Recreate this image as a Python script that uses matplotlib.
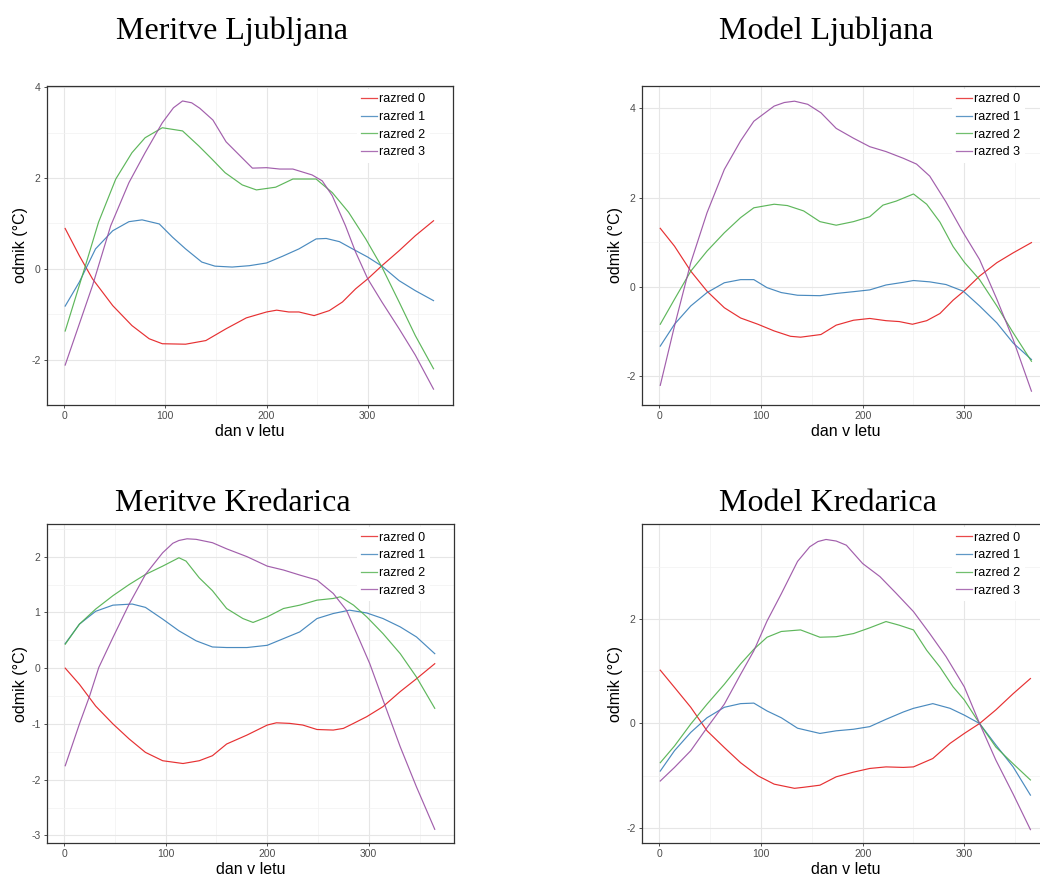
import matplotlib
matplotlib.use("Agg")
import matplotlib.pyplot as plt
from matplotlib.ticker import MultipleLocator
from matplotlib.lines import Line2D

plt.rcParams['font.family'] = ['Liberation Sans', 'DejaVu Sans']
plt.rcParams['axes.unicode_minus'] = False

labels = ["razred 0", "razred 1", "razred 2", "razred 3"]
colors = ["#E41A1C", "#377EB8", "#4DAF4A", "#984EA3"]
titles = ["Meritve Ljubljana", "Model Ljubljana", "Meritve Kredarica", "Model Kredarica"]
x_label = "dan v letu"
y_label = "odmik (°C)"

# ---- Meritve Ljubljana ----
mlj_x0 = [1, 15, 28, 48, 67, 84, 97, 120, 140, 160, 180, 200, 210, 222, 232, 247, 262, 275, 288, 300, 314, 331, 347, 365]
mlj_y0 = [0.89, 0.29, -0.22, -0.81, -1.25, -1.54, -1.65, -1.66, -1.58, -1.32, -1.08, -0.95, -0.91, -0.95, -0.95, -1.03, -0.92, -0.73, -0.44, -0.22, 0.07, 0.40, 0.73, 1.06]
mlj_x1 = [1, 15, 31, 48, 64, 77, 94, 107, 120, 136, 149, 166, 183, 200, 216, 232, 249, 259, 272, 285, 300, 314, 331, 347, 365]
mlj_y1 = [-0.82, -0.29, 0.44, 0.84, 1.04, 1.08, 0.99, 0.70, 0.44, 0.15, 0.06, 0.04, 0.07, 0.13, 0.28, 0.44, 0.66, 0.67, 0.60, 0.44, 0.26, 0.06, -0.26, -0.48, -0.70]
mlj_x2 = [1, 21, 34, 51, 67, 80, 97, 117, 133, 146, 159, 176, 190, 209, 226, 249, 265, 281, 298, 314, 331, 347, 365]
mlj_y2 = [-1.37, 0.07, 1.03, 1.98, 2.56, 2.89, 3.11, 3.04, 2.71, 2.42, 2.12, 1.85, 1.74, 1.80, 1.98, 1.98, 1.68, 1.25, 0.66, 0.04, -0.73, -1.47, -2.20]
mlj_x3 = [1, 28, 46, 64, 80, 97, 108, 117, 126, 134, 147, 160, 173, 186, 200, 213, 226, 245, 255, 265, 278, 288, 300, 314, 331, 347, 365]
mlj_y3 = [-2.12, -0.37, 0.95, 1.90, 2.56, 3.22, 3.55, 3.70, 3.66, 3.54, 3.28, 2.80, 2.51, 2.22, 2.23, 2.20, 2.20, 2.07, 1.94, 1.61, 0.95, 0.37, -0.22, -0.73, -1.32, -1.90, -2.65]

# ---- Model Ljubljana ----
mol_x0 = [1, 15, 31, 47, 64, 80, 97, 113, 129, 139, 159, 174, 191, 207, 223, 236, 249, 263, 276, 289, 300, 315, 332, 348, 366]
mol_y0 = [1.31, 0.91, 0.35, -0.10, -0.47, -0.70, -0.84, -0.99, -1.11, -1.13, -1.07, -0.86, -0.75, -0.71, -0.76, -0.78, -0.84, -0.76, -0.60, -0.30, -0.09, 0.24, 0.54, 0.76, 0.99]
mol_x1 = [1, 15, 31, 47, 64, 80, 93, 106, 120, 136, 158, 174, 191, 207, 223, 240, 250, 266, 282, 299, 315, 332, 348, 366]
mol_y1 = [-1.33, -0.84, -0.43, -0.13, 0.09, 0.16, 0.16, -0.02, -0.13, -0.19, -0.20, -0.15, -0.11, -0.07, 0.04, 0.10, 0.14, 0.11, 0.05, -0.10, -0.43, -0.81, -1.26, -1.63]
mol_x2 = [1, 15, 31, 47, 64, 80, 93, 113, 126, 142, 158, 174, 191, 207, 220, 233, 250, 263, 276, 289, 300, 315, 332, 348, 366]
mol_y2 = [-0.84, -0.28, 0.35, 0.80, 1.21, 1.55, 1.77, 1.85, 1.82, 1.70, 1.46, 1.38, 1.46, 1.57, 1.83, 1.92, 2.08, 1.85, 1.45, 0.90, 0.55, 0.16, -0.43, -1.03, -1.67]
mol_x3 = [1, 15, 31, 47, 64, 80, 93, 113, 123, 133, 146, 159, 174, 191, 207, 223, 240, 253, 266, 282, 299, 315, 332, 348, 366]
mol_y3 = [-2.21, -0.88, 0.54, 1.66, 2.63, 3.27, 3.71, 4.05, 4.13, 4.16, 4.09, 3.90, 3.55, 3.33, 3.14, 3.03, 2.88, 2.75, 2.48, 1.90, 1.21, 0.61, -0.28, -1.18, -2.34]

# ---- Meritve Kredarica ----
mkr_x0 = [1, 15, 31, 48, 64, 80, 97, 117, 133, 146, 160, 180, 200, 209, 222, 235, 249, 265, 275, 285, 298, 314, 331, 347, 365]
mkr_y0 = [0.00, -0.29, -0.68, -1.00, -1.27, -1.51, -1.66, -1.71, -1.66, -1.57, -1.36, -1.20, -1.02, -0.98, -0.99, -1.02, -1.10, -1.11, -1.08, -0.99, -0.87, -0.69, -0.42, -0.19, 0.08]
mkr_x1 = [1, 15, 31, 48, 67, 80, 97, 113, 130, 146, 160, 180, 200, 216, 232, 249, 265, 281, 298, 314, 331, 347, 365]
mkr_y1 = [0.44, 0.79, 1.02, 1.13, 1.15, 1.09, 0.88, 0.67, 0.49, 0.38, 0.37, 0.37, 0.41, 0.53, 0.65, 0.89, 0.98, 1.04, 0.99, 0.89, 0.74, 0.56, 0.26]
mkr_x2 = [1, 15, 31, 48, 64, 80, 97, 113, 120, 133, 146, 160, 176, 186, 200, 216, 232, 249, 265, 272, 285, 298, 314, 331, 347, 365]
mkr_y2 = [0.43, 0.79, 1.06, 1.30, 1.50, 1.68, 1.83, 1.98, 1.92, 1.62, 1.39, 1.07, 0.89, 0.82, 0.92, 1.07, 1.13, 1.22, 1.25, 1.28, 1.13, 0.92, 0.62, 0.26, -0.16, -0.72]
mkr_x3 = [1, 15, 25, 34, 48, 64, 80, 97, 107, 113, 121, 130, 146, 160, 180, 200, 216, 232, 249, 265, 278, 291, 301, 314, 331, 347, 365]
mkr_y3 = [-1.75, -1.00, -0.50, 0.01, 0.55, 1.15, 1.68, 2.07, 2.24, 2.29, 2.32, 2.31, 2.25, 2.14, 2.00, 1.83, 1.76, 1.67, 1.58, 1.34, 1.04, 0.50, 0.08, -0.57, -1.41, -2.13, -2.89]

# ---- Model Kredarica ----
mok_x0 = [1, 15, 31, 47, 64, 80, 97, 113, 133, 142, 158, 174, 191, 207, 223, 240, 250, 269, 286, 300, 315, 331, 348, 365]
mok_y0 = [1.02, 0.69, 0.31, -0.14, -0.46, -0.75, -1.00, -1.16, -1.24, -1.22, -1.18, -1.02, -0.93, -0.86, -0.83, -0.84, -0.83, -0.67, -0.38, -0.19, 0.00, 0.26, 0.57, 0.86]
mok_x1 = [1, 15, 31, 47, 64, 80, 93, 106, 120, 136, 158, 174, 191, 207, 223, 240, 250, 269, 286, 300, 315, 331, 348, 365]
mok_y1 = [-0.91, -0.52, -0.17, 0.11, 0.31, 0.38, 0.39, 0.24, 0.11, -0.09, -0.19, -0.14, -0.11, -0.06, 0.08, 0.22, 0.29, 0.38, 0.29, 0.16, 0.00, -0.41, -0.83, -1.37]
mok_x2 = [1, 15, 31, 47, 64, 80, 93, 106, 120, 139, 158, 174, 191, 207, 223, 236, 250, 263, 276, 289, 300, 315, 331, 348, 365]
mok_y2 = [-0.75, -0.43, -0.01, 0.37, 0.75, 1.14, 1.42, 1.65, 1.76, 1.79, 1.65, 1.66, 1.72, 1.83, 1.95, 1.88, 1.79, 1.40, 1.08, 0.70, 0.45, 0.00, -0.45, -0.77, -1.08]
mok_x3 = [1, 15, 31, 47, 64, 80, 93, 106, 120, 136, 148, 156, 164, 174, 184, 200, 217, 233, 250, 266, 282, 300, 315, 331, 348, 365]
mok_y3 = [-1.10, -0.84, -0.52, -0.08, 0.37, 0.94, 1.39, 1.96, 2.48, 3.10, 3.38, 3.48, 3.52, 3.49, 3.41, 3.06, 2.81, 2.49, 2.14, 1.72, 1.28, 0.70, 0.00, -0.70, -1.35, -2.03]

panel_series = [
    [(mlj_x0, mlj_y0), (mlj_x1, mlj_y1), (mlj_x2, mlj_y2), (mlj_x3, mlj_y3)],
    [(mol_x0, mol_y0), (mol_x1, mol_y1), (mol_x2, mol_y2), (mol_x3, mol_y3)],
    [(mkr_x0, mkr_y0), (mkr_x1, mkr_y1), (mkr_x2, mkr_y2), (mkr_x3, mkr_y3)],
    [(mok_x0, mok_y0), (mok_x1, mok_y1), (mok_x2, mok_y2), (mok_x3, mok_y3)],
]

W, H = 1040, 877
fig = plt.figure(figsize=(W / 100, H / 100), dpi=100)

# axes boxes in pixels: left, top, right, bottom
boxes = [
    (46.7, 86.0, 453.0, 405.0),
    (641.7, 86.0, 1050.0, 405.0),
    (46.7, 524.3, 454.3, 842.7),
    (641.7, 524.3, 1050.0, 842.7),
]
ylims = [(-3.0, 4.03), (-2.65, 4.5), (-3.13, 2.58), (-2.28, 3.81)]
ymajor = [2, 2, 1, 2]
title_pos = [(232.5, 39.0), (826, 39.0), (232.5, 511), (828, 511)]

for i in range(4):
    l, t, r, b = boxes[i]
    ax = fig.add_axes([l / W, 1 - b / H, (r - l) / W, (b - t) / H])
    wpx, hpx = r - l, b - t
    for (xs, ys), c, lab in zip(panel_series[i], colors, labels):
        ax.plot(xs, ys, color=c, lw=0.85, alpha=0.9, label=lab,
                solid_joinstyle='round')
    ax.set_xlim(-17.25, 384.25)
    ax.set_ylim(*ylims[i])
    ax.xaxis.set_major_locator(MultipleLocator(100))
    ax.xaxis.set_minor_locator(MultipleLocator(50))
    ax.yaxis.set_major_locator(MultipleLocator(ymajor[i]))
    ax.yaxis.set_minor_locator(MultipleLocator(ymajor[i] / 2))
    ax.set_axisbelow(True)
    ax.grid(which='major', color='#E6E6E6', lw=0.8)
    ax.grid(which='minor', color='#F2F2F2', lw=0.5)
    ax.tick_params(which='major', length=2.5, width=0.6, color='#333333',
                   labelsize=7.5, labelcolor='#4D4D4D', pad=2)
    ax.tick_params(which='minor', length=0)
    for s in ax.spines.values():
        s.set_color('#333333')
        s.set_linewidth(0.9)
    ax.set_xlabel(x_label, fontsize=11.5)
    ax.set_ylabel(y_label, fontsize=11.5)
    ax.xaxis.set_label_coords(0.5, -19.0 / hpx)
    ax.yaxis.set_label_coords(-18.5 / wpx, 0.5)
    handles = [Line2D([], [], color=c, lw=0.9, alpha=0.8) for c in colors]
    ax.legend(handles, labels, loc='upper right',
              bbox_to_anchor=(383.0 / wpx, 1 - 3.0 / hpx),
              borderaxespad=0, fontsize=9, frameon=True, facecolor='white',
              edgecolor='none', framealpha=1, fancybox=False,
              handlelength=1.25, handletextpad=0.2, labelspacing=0.45,
              borderpad=0.35)
    tx, ty = title_pos[i]
    fig.text(tx / W, 1 - ty / H, titles[i], ha='center', va='baseline',
             fontsize=23, family=['Liberation Serif', 'DejaVu Serif'])

fig.savefig('out.png', dpi=100, facecolor='white')
